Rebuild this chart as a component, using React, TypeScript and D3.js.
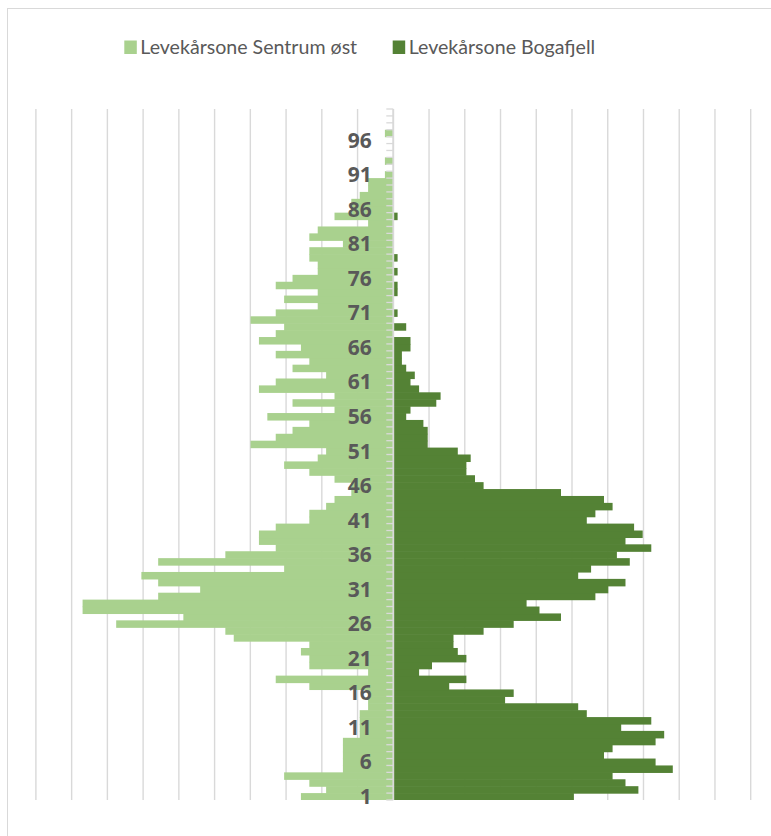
import React from "react";
import * as d3 from "d3";

// Age categories (1..100), bottom to top
const ages: number[] = Array.from({ length: 100 }, (_, i) => i + 1);

// Persons per age, Levekårsone Sentrum øst (age 1..100)
const sentrumOst: number[] = [
  11, 8, 10, 13, 6, 6, 6, 6, 6, 4,
  4, 4, 4, 3, 3, 3, 10, 14, 3, 10,
  10, 11, 10, 19, 20, 33, 25, 37, 37, 28,
  23, 28, 30, 13, 28, 20, 14, 16, 16, 14,
  10, 10, 8, 7, 5, 5, 7, 10, 13, 9,
  8, 17, 14, 12, 10, 15, 7, 12, 7, 16,
  14, 8, 12, 10, 14, 11, 16, 14, 13, 17,
  14, 9, 13, 9, 14, 12, 9, 9, 10, 10,
  6, 10, 9, 3, 7, 5, 5, 4, 3, 3,
  1, 0, 1, 0, 0, 0, 1, 0, 0, 0,
];

// Persons per age, Levekårsone Bogafjell (age 1..100)
const bogafjell: number[] = [
  42, 57, 54, 51, 65, 61, 49, 51, 61, 63,
  53, 60, 45, 43, 26, 28, 13, 17, 6, 9,
  17, 15, 14, 14, 21, 28, 39, 34, 31, 47,
  50, 54, 43, 46, 55, 52, 60, 54, 58, 56,
  45, 47, 51, 49, 39, 21, 19, 17, 17, 18,
  15, 8, 8, 8, 7, 3, 4, 10, 11, 6,
  4, 5, 3, 2, 2, 4, 4, 0, 3, 0,
  1, 0, 0, 1, 1, 0, 1, 0, 1, 0,
  0, 0, 0, 0, 1, 0, 0, 0, 0, 0,
  0, 0, 0, 0, 0, 0, 0, 0, 0, 0,
];

const tickLabels: string[] = ["1", "6", "11", "16", "21", "26", "31", "36", "41", "46", "51", "56", "61", "66", "71", "76", "81", "86", "91", "96"];
const seriesNames: string[] = ["Levekårsone Sentrum øst", "Levekårsone Bogafjell"];
const seriesColors: string[] = ["#A9D18E", "#548235"];
const gridValues: number[] = [-4, -3.6, -3.2, -2.8, -2.4, -2, -1.6, -1.2, -0.8, -0.4, 0, 0.4, 0.8, 1.2, 1.6, 2, 2.4, 2.8, 3.2, 3.6, 4];

const W = 771;
const H = 836;

export default function App() {
  const totalL = d3.sum(sentrumOst);
  const totalR = d3.sum(bogafjell);
  const pctL = sentrumOst.map((v) => (v / totalL) * 100);
  const pctR = bogafjell.map((v) => (v / totalR) * 100);

  const x = d3.scaleLinear().domain([-4, 4]).range([35.9, 750.7]);
  const y = d3
    .scaleBand<number>()
    .domain([...ages].reverse())
    .range([109, 800])
    .paddingInner(0)
    .paddingOuter(0);
  const bw = y.bandwidth();
  const x0 = x(0);

  const boundaries = ages.map((a) => (y(a) as number)).concat([800]);
  const font = "Lato, 'Noto Sans', 'DejaVu Sans', sans-serif";
  const labelFont = "'Noto Sans', 'Open Sans', 'DejaVu Sans', sans-serif";

  return (
    <div style={{ position: "absolute", left: 0, top: 0 }}>
      <svg width={W} height={H} style={{ display: "block", background: "#ffffff" }}>
        <rect x={7.5} y={8.5} width={900} height={900} fill="#ffffff" stroke="#d9d9d9" strokeWidth={1} />

        {/* legend */}
        {seriesNames.map((name, i) => {
          const lx = i === 0 ? 124.3 : 392.7;
          return (
            <g key={name}>
              <rect x={lx} y={40.5} width={12.5} height={13.5} fill={seriesColors[i]} />
              <text x={lx + 16} y={54.3} fontFamily={font} fontSize={19.6} fill="#595959">
                {name}
              </text>
            </g>
          );
        })}

        {/* gridlines */}
        {gridValues.map((g) => (
          <line key={g} x1={x(g)} x2={x(g)} y1={109} y2={800} stroke="#d9d9d9" strokeWidth={1.4} />
        ))}

        {/* bars */}
        {ages.map((a, i) => {
          const yy = y(a) as number;
          const h = a === 1 ? bw : bw + 0.6;
          return (
            <g key={a}>
              {pctL[i] > 0 && (
                <rect x={x(-pctL[i])} y={yy} width={x0 - x(-pctL[i])} height={h} fill={seriesColors[0]} />
              )}
              {pctR[i] > 0 && (
                <rect x={x0} y={yy} width={x(pctR[i]) - x0} height={h} fill={seriesColors[1]} />
              )}
            </g>
          );
        })}

        {/* category axis */}
        {boundaries.map((b, i) => (
          <line key={"t" + i} x1={x0 - 7} x2={x0} y1={b} y2={b} stroke="#d9d9d9" strokeWidth={1.3} />
        ))}
        <line x1={x0} x2={x0} y1={109} y2={800} stroke="#d9d9d9" strokeWidth={1.8} />

        {tickLabels.map((t) => (
          <text
            key={t}
            x={x0 - 21.5}
            y={(y(+t) as number) + bw / 2 + 7.5}
            textAnchor="end"
            fontFamily={labelFont}
            fontWeight="bold"
            fontSize={21}
            fill="#595959"
          >
            {t}
          </text>
        ))}
      </svg>
    </div>
  );
}
